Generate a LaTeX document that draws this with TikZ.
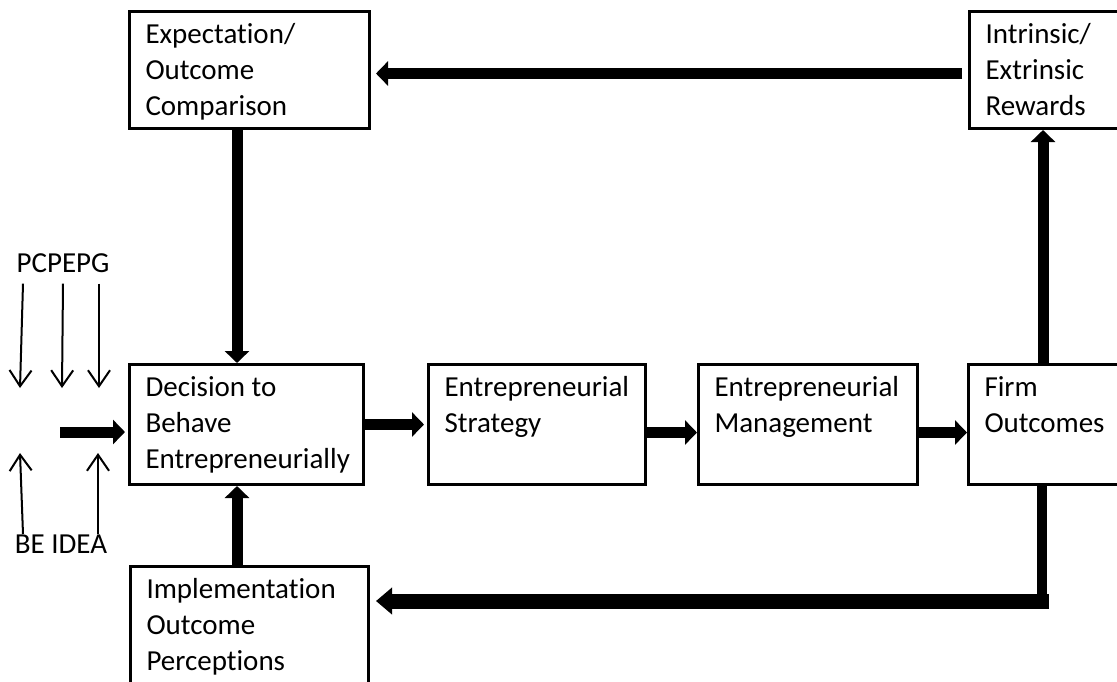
\documentclass[tikz,border=0pt]{standalone}
\usepackage{fontspec}
\setmainfont{Carlito}[Ligatures=CommonOff]
\usetikzlibrary{arrows.meta, positioning}

% top-aligned text block inside a stage box: width, height, lines
\newcommand{\stagetext}[3]{\parbox[t][#2][t]{#1}{\raggedright\rule{0pt}{16pt}#3}}

\begin{document}
\begin{tikzpicture}[x=0.5pt, y=-0.5pt,
    stage/.style={draw, line width=1.5pt, anchor=north west, inner xsep=8pt, inner ysep=0pt,
      font=\fontsize{14.5pt}{18pt}\selectfont},
    tag/.style={inner sep=0pt, font=\fontsize{14.5pt}{18pt}\selectfont},
    flow/.style={line width=5.5pt, -{Triangle[width=12pt, length=6pt]}},
    wideflow/.style={line width=7.5pt, -{Triangle[width=13pt, length=8pt]}},
    bar/.style={line width=5pt},
    cue/.style={line width=1pt, -{Straight Barb[width=11pt, length=8pt]}}
  ]
  \useasboundingbox (0,0) rectangle (1117,681);

  % stages
  \node[stage] (expect) at (128,10) {\stagetext{104pt}{58.5pt}{Expectation/\\Outcome\\Comparison}};
  \node[stage] (rewards) at (968,10) {\stagetext{62.5pt}{58.5pt}{Intrinsic/\\Extrinsic\\Rewards}};
  \node[stage] (decide) at (128,363) {\stagetext{101pt}{60pt}{Decision to\\Behave\\Entrepreneurially}};
  \node[stage] (strategy) at (427,363) {\stagetext{92.5pt}{60pt}{Entrepreneurial\\Strategy}};
  \node[stage] (manage) at (697,363) {\stagetext{93.5pt}{60pt}{Entrepreneurial\\Management}};
  \node[stage] (firm) at (967,363) {\stagetext{62.5pt}{60pt}{Firm\\Outcomes}};
  \node[stage] (perceive) at (129,565) {\stagetext{103pt}{60pt}{Implementation\\Outcome\\Perceptions}};

  % antecedents on the left
  \node[tag, anchor=base] (pcpepg) at (63,272) {PCPEPG};
  \node[tag, anchor=base] (beidea) at (61,553) {BE IDEA};
  \coordinate (pc) at (20,388);
  \coordinate (pe) at (62,388);
  \coordinate (pg) at (99,388);
  \coordinate (be) at (20,453);
  \coordinate (idea) at (98,453);
  \coordinate (inflow) at (60,432);

  \draw[cue] ([shift={(-20pt,-5.5pt)}]pcpepg.south) -- (pc);
  \draw[cue] ([shift={(0pt,-5.5pt)}]pcpepg.south) -- (pe);
  \draw[cue] ([shift={(18pt,-5.5pt)}]pcpepg.south) -- (pg);
  \draw[cue] ([xshift=-19pt]beidea.north) -- (be);
  \draw[cue] ([xshift=18.5pt]beidea.north) -- (idea);
  \draw[flow, shorten >=1.5pt] (inflow) -- (decide.west |- inflow);

  % main chain
  \draw[flow, shorten >=1.5pt] (decide.east) -- (strategy.west);
  \draw[flow] ([yshift=-4pt]strategy.east) -- ([yshift=-4pt]manage.west);
  \draw[flow] ([yshift=-4pt]manage.east) -- ([yshift=-4pt]firm.west);

  % feedback loops
  \coordinate (spine) at (237,0);
  \coordinate (riser) at (1043,0);
  \coordinate (turn) at (1042,601);
  \draw[flow] (firm.north -| riser) -- (rewards.south -| riser);
  \draw[flow, shorten <=3pt, shorten >=2.5pt] ([yshift=-1.75pt]rewards.west) -- ([yshift=-1.75pt]expect.east);
  \draw[flow] (expect.south -| spine) -- (decide.north -| spine);
  \draw[bar] (firm.south -| turn) -- ([yshift=-3.75pt]turn);
  \draw[wideflow, shorten >=3pt] ([xshift=3.5pt]turn) -- (perceive.east |- turn);
  \draw[flow] (perceive.north -| spine) -- (decide.south -| spine);
\end{tikzpicture}
\end{document}
